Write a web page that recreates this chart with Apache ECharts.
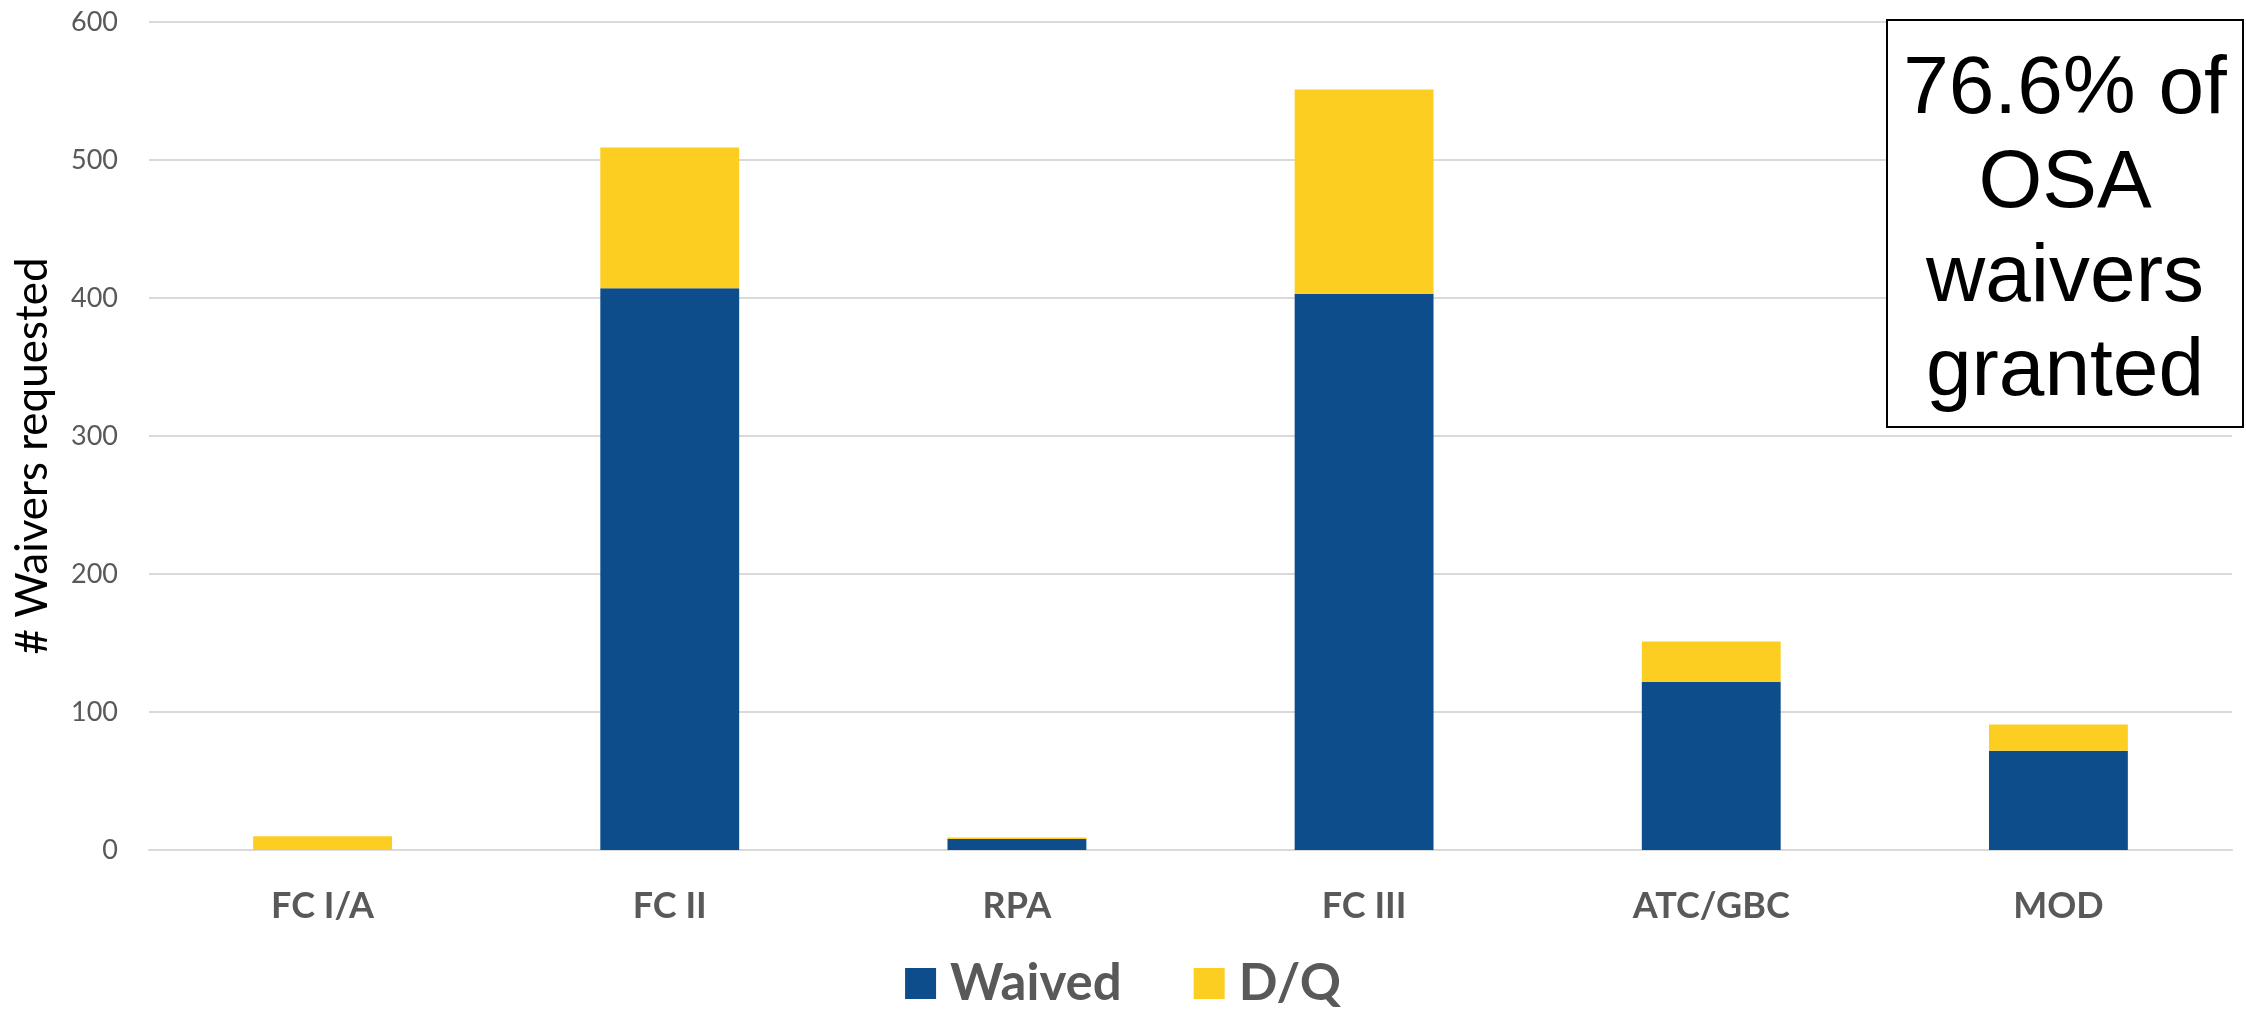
<!DOCTYPE html>
<html>
<head>
<meta charset="utf-8">
<script src="https://cdn.jsdelivr.net/npm/echarts@6/dist/echarts.min.js"></script>
<style>
  html, body { margin: 0; padding: 0; background: #ffffff; }
  #chart { width: 2246px; height: 1012px; }
</style>
</head>
<body>
<div id="chart"></div>
<script>
// Waiver requests per program, split into granted (Waived) and denied/questioned (D/Q)
const categories = ['FC I/A', 'FC II', 'RPA', 'FC III', 'ATC/GBC', 'MOD'];
const waived = [0, 407, 8, 403, 122, 72];
const dq = [10, 102, 1, 148, 29, 19];
const yTicks = { min: 0, max: 600, interval: 100 };
const seriesNames = ['Waived', 'D/Q'];
const noteLines = ['76.6% of', 'OSA', 'waivers', 'granted'];

const BLUE = '#0E4D8B';
const YELLOW = '#FCCE21';
const GREY = '#595959';
const GRID = '#D9D9D9';
const FONT = 'Lato, "Open Sans", sans-serif';

const chart = echarts.init(document.getElementById('chart'), null, { renderer: 'canvas' });

chart.setOption({
  animation: false,
  backgroundColor: '#ffffff',
  grid: { left: 149, right: 14, top: 22, bottom: 162, containLabel: false },
  legend: {
    data: seriesNames,
    bottom: -2,
    left: 'center',
    icon: 'rect',
    itemWidth: 31,
    itemHeight: 31,
    itemGap: 72,
    textStyle: {
      color: GREY, fontSize: 51, fontWeight: 'bold', fontFamily: FONT,
      padding: [0, 0, 0, 9]
    }
  },
  xAxis: {
    type: 'category',
    data: categories,
    axisLine: { lineStyle: { color: GRID, width: 2 } },
    axisTick: { show: false },
    axisLabel: { color: GREY, fontSize: 36, fontWeight: 'bold', fontFamily: FONT, margin: 38 }
  },
  yAxis: {
    type: 'value',
    min: yTicks.min,
    max: yTicks.max,
    interval: yTicks.interval,
    name: '# Waivers requested',
    nameLocation: 'middle',
    nameRotate: 90,
    nameGap: 94,
    nameTextStyle: { color: '#000000', fontSize: 44, fontFamily: FONT, padding: [0, 40, 0, 0] },
    axisLine: { show: false },
    axisTick: { show: false },
    splitLine: { lineStyle: { color: GRID, width: 2 } },
    axisLabel: { color: GREY, fontSize: 27, fontFamily: FONT, margin: 31 }
  },
  series: [
    {
      name: seriesNames[0],
      type: 'bar',
      stack: 'total',
      barWidth: '40%',
      data: waived,
      itemStyle: { color: BLUE }
    },
    {
      name: seriesNames[1],
      type: 'bar',
      stack: 'total',
      barWidth: '40%',
      data: dq,
      itemStyle: { color: YELLOW }
    }
  ],
  graphic: [
    {
      type: 'group',
      left: 1886,
      top: 19,
      z: 100,
      children: [
        {
          type: 'rect',
          z: 100,
          shape: { x: 0, y: 0, width: 356, height: 407 },
          style: { fill: '#ffffff', stroke: '#000000', lineWidth: 2 }
        },
        {
          type: 'text',
          z: 101,
          x: 178,
          y: 211,
          style: {
            text: noteLines.join('\n'),
            fill: '#000000',
            font: '82px "Liberation Sans", Arial, sans-serif',
            lineHeight: 94,
            align: 'center',
            verticalAlign: 'middle'
          }
        }
      ]
    }
  ]
});
</script>
</body>
</html>
